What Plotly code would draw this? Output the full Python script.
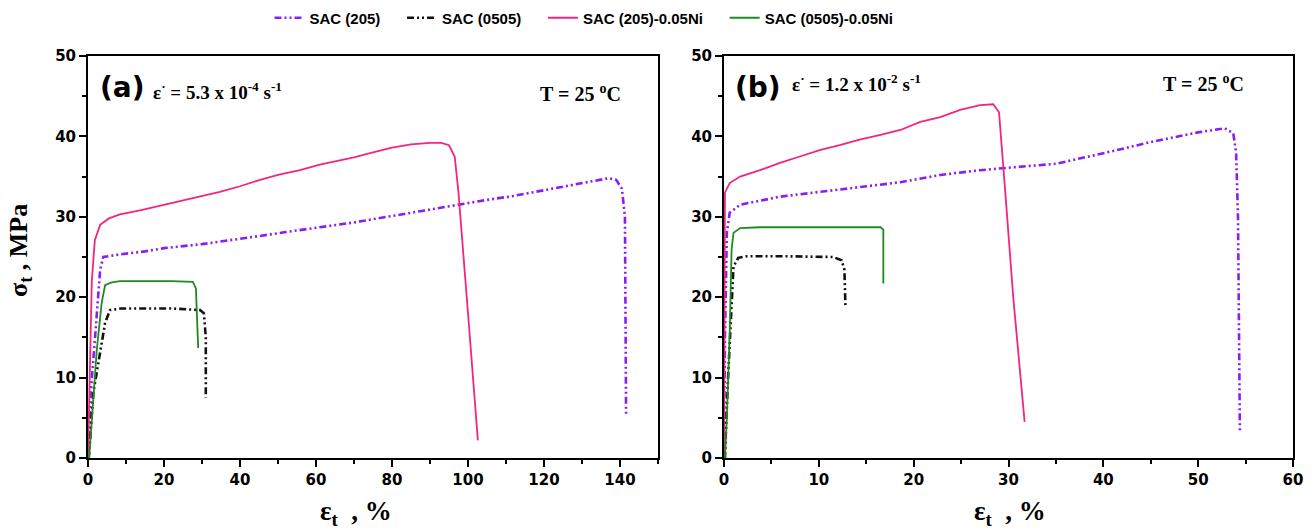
import plotly.graph_objects as go

# ---------------- data ----------------
# Panel (a): strain rate 5.3e-4 s^-1
a_sac205_x = [0, 0.2, 0.7, 1.4, 2.3, 3.2, 4.0, 8, 15, 20, 30, 38, 45, 52, 60, 70, 80, 90, 98, 105, 112, 120, 128, 134, 137, 139, 140.5, 141.3, 141.6]
a_sac205_y = [0, 2.7, 8.0, 12.2, 17.5, 23.4, 25.0, 25.3, 25.7, 26.1, 26.6, 27.1, 27.6, 28.1, 28.6, 29.3, 30.1, 30.9, 31.6, 32.1, 32.6, 33.3, 34.0, 34.6, 34.8, 34.6, 33.5, 30, 5.3]

a_sac0505_x = [0, 0.2, 1.4, 3.2, 4.5, 5.8, 8.8, 15, 22, 29.5, 30.5, 31.0, 31.0]
a_sac0505_y = [0, 0, 8.1, 13.4, 16.8, 18.4, 18.6, 18.6, 18.6, 18.4, 18.0, 15.0, 7.5]

a_sac205ni_x = [0, 0.5, 1.0, 1.8, 3.2, 5.5, 8.4, 13.7, 19, 24.2, 30, 34.7, 40, 45.3, 50, 55.8, 61, 66, 70, 75, 80, 85, 90, 93, 95, 96.5, 97.5, 100, 102.6]
a_sac205ni_y = [0, 12, 22, 27.1, 29.0, 29.8, 30.3, 30.8, 31.4, 32.0, 32.6, 33.1, 33.8, 34.6, 35.2, 35.8, 36.5, 37.0, 37.4, 38.0, 38.6, 39.0, 39.2, 39.2, 38.9, 37.5, 33.0, 18.0, 2.2]

a_sac0505ni_x = [0, 0.3, 2.3, 3.6, 4.5, 6.0, 8.4, 15.4, 22, 27.6, 28.4, 29.0]
a_sac0505ni_y = [0, 0, 13.4, 19.3, 21.5, 21.8, 22.0, 22.0, 22.0, 21.9, 21.1, 13.7]

# Panel (b): strain rate 1.2e-2 s^-1
b_sac205_x = [0, 0.1, 0.3, 0.6, 1.7, 5.9, 10.1, 14.3, 18.6, 22.8, 27, 30, 35, 40, 45, 50, 52.8, 53.7, 54.0, 54.2, 54.4]
b_sac205_y = [0, 15, 28.0, 30.5, 31.5, 32.5, 33.1, 33.7, 34.3, 35.2, 35.8, 36.1, 36.6, 37.9, 39.3, 40.5, 41.0, 40.4, 38.0, 30, 3.2]

b_sac0505_x = [0, 0.1, 0.4, 0.8, 1.0, 1.5, 2.4, 6, 11.5, 12.4, 12.7, 12.8]
b_sac0505_y = [0, 0, 9.3, 19.7, 23.8, 24.9, 25.1, 25.1, 25.0, 24.6, 23.4, 19.0]

b_sac205ni_x = [0, 0.05, 0.1, 0.6, 1.7, 3.8, 5.9, 8.0, 10.1, 12.2, 14.3, 16.5, 18.6, 20.7, 22.8, 24.9, 27.0, 28.4, 29.0, 29.6, 30.5, 31.7]
b_sac205ni_y = [0, 20, 33.0, 34.2, 35.0, 35.8, 36.7, 37.5, 38.3, 38.9, 39.6, 40.2, 40.8, 41.8, 42.4, 43.3, 43.9, 44.0, 43.0, 34.0, 20.0, 4.5]

b_sac0505ni_x = [0, 0.1, 0.3, 0.6, 0.8, 1.0, 1.7, 3.8, 10, 16.5, 16.8, 16.8]
b_sac0505ni_y = [0, 0, 5.0, 15.5, 25.9, 28.0, 28.6, 28.7, 28.7, 28.7, 28.4, 21.7]

series_names = ["SAC (205)", "SAC (0505)", "SAC (205)-0.05Ni", "SAC (0505)-0.05Ni"]
a_x_ticks = [0, 20, 40, 60, 80, 100, 120, 140]
b_x_ticks = [0, 10, 20, 30, 40, 50, 60]
y_ticks = [0, 10, 20, 30, 40, 50]

# ---------------- styling ----------------
purple = "#8A1CF5"
black = "#111111"
pink = "#F0267F"
green = "#1F8A1F"
dashdotdot = "7px,3px,2px,3px,2px,3px"
styles = [
    dict(color=purple, width=2.6, dash=dashdotdot),
    dict(color=black, width=2.6, dash=dashdotdot),
    dict(color=pink, width=1.8, dash="solid"),
    dict(color=green, width=1.8, dash="solid"),
]

fig = go.Figure()
a_data = [(a_sac205_x, a_sac205_y), (a_sac0505_x, a_sac0505_y), (a_sac205ni_x, a_sac205ni_y), (a_sac0505ni_x, a_sac0505ni_y)]
b_data = [(b_sac205_x, b_sac205_y), (b_sac0505_x, b_sac0505_y), (b_sac205ni_x, b_sac205ni_y), (b_sac0505ni_x, b_sac0505ni_y)]

pad = "&nbsp;" * 4
for i, (x, y) in enumerate(a_data):
    label = series_names[i] + (pad if i < len(series_names) - 1 else "")
    fig.add_trace(go.Scatter(x=x, y=y, mode="lines", name=label, line=styles[i],
                             xaxis="x", yaxis="y", showlegend=True))
for i, (x, y) in enumerate(b_data):
    fig.add_trace(go.Scatter(x=x, y=y, mode="lines", name=series_names[i], line=styles[i],
                             xaxis="x2", yaxis="y2", showlegend=False))

W, H = 1314, 531
OFF = 8  # page body margin offset
ML, MR, MT, MB = 70, 10, 45, 60
IW, IH = W - ML - MR, H - MT - MB

def px_x(px):
    return (px - OFF - ML) / IW

def px_y(py):
    return (H - MB - (py - OFF)) / IH

tickfont = dict(family="DejaVu Sans", size=15, color="black", weight="bold")

def xaxis(domain, rng, ticks, minor, anchor):
    return dict(domain=domain, range=rng, tickvals=ticks, ticks="outside", ticklen=7, tickwidth=2,
                tickcolor="black", showline=True, linecolor="black", linewidth=2, mirror=True,
                showgrid=False, zeroline=False, tickfont=tickfont, anchor=anchor, automargin=False,
                minor=dict(dtick=minor, ticks="outside", ticklen=4, tickwidth=2, tickcolor="black", showgrid=False))

def yaxis(domain, anchor):
    return dict(domain=domain, range=[0, 50], tickvals=y_ticks, ticks="outside", ticklen=7, tickwidth=2,
                tickcolor="black", showline=True, linecolor="black", linewidth=2, mirror=True,
                showgrid=False, zeroline=False, tickfont=tickfont, anchor=anchor, automargin=False,
                minor=dict(dtick=5, ticks="outside", ticklen=4, tickwidth=2, tickcolor="black", showgrid=False))

ydom = [px_y(458), px_y(56)]
fig.update_layout(
    width=W, height=H,
    margin=dict(l=ML, r=MR, t=MT, b=MB, autoexpand=False),
    paper_bgcolor="white", plot_bgcolor="white",
    xaxis=xaxis([px_x(88), px_x(658)], [0, 150], a_x_ticks, 10, "y"),
    yaxis=yaxis(ydom, "x"),
    xaxis2=xaxis([px_x(724), px_x(1293)], [0, 60], b_x_ticks, 5, "y2"),
    yaxis2=yaxis(ydom, "x2"),
    legend=dict(orientation="h", x=(584 - OFF) / W, xanchor="center", xref="container",
                y=1 - (18 - OFF) / H, yanchor="middle", yref="container",
                font=dict(family="Liberation Sans", size=15, color="black", weight="bold"),
                tracegroupgap=0, bgcolor="rgba(0,0,0,0)"),
    showlegend=True,
)

serif = "Liberation Serif"
ann = []
def A(text, x, y, size, family, xanchor="left", textangle=0):
    ann.append(dict(text=text, x=px_x(x), y=px_y(y), xref="paper", yref="paper", showarrow=False,
                    xanchor=xanchor, yanchor="middle", textangle=textangle,
                    font=dict(family=family, size=size, color="black")))

A("<b>(a)</b>", 98, 88, 28, "DejaVu Sans")
A("<b>ε<sup>·</sup> = 5.3 x 10<sup>-4</sup> s<sup>-1</sup></b>", 151, 91, 19, serif)
A("<b>T = 25 <sup>o</sup>C</b>", 538, 93, 20, serif)
A("<b>(b)</b>", 733, 88, 28, "DejaVu Sans")
A("<b>ε<sup>·</sup> = 1.2 x 10<sup>-2</sup> s<sup>-1</sup></b>", 790, 83, 19, serif)
A("<b>T = 25 <sup>o</sup>C</b>", 1161, 83, 20, serif)
A("<b>ε<sub>t</sub>&nbsp;&nbsp;,&nbsp;%</b>", 356, 513, 27, serif, xanchor="center")
A("<b>ε<sub>t</sub>&nbsp;&nbsp;,&nbsp;%</b>", 1010, 513, 27, serif, xanchor="center")
A("<b>σ<sub>t</sub>&nbsp;,&nbsp;MPa</b>", 20, 251, 26, serif, xanchor="center", textangle=-90)
fig.update_layout(annotations=ann)

fig.write_html("out.html")
